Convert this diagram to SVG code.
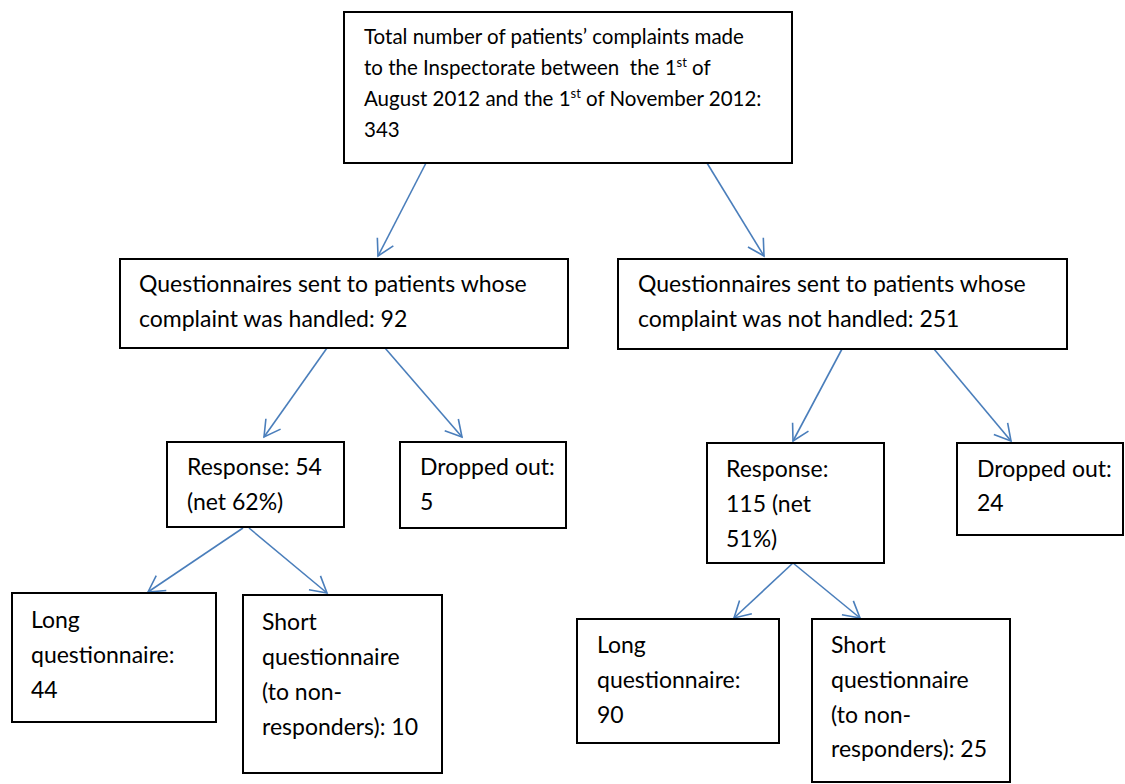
<svg xmlns="http://www.w3.org/2000/svg" width="1125" height="784" viewBox="0 0 1125 784">
<style>
.box{fill:#fff;stroke:#000;stroke-width:2}
.t{font-family:Lato,"Open Sans","Liberation Sans",sans-serif;font-size:23px;fill:#000}
.tt{font-family:Lato,"Open Sans","Liberation Sans",sans-serif;font-size:20.5px;fill:#000}
.sup{font-size:13px}
.conn line{stroke:#4a7ebb;stroke-width:1.6;fill:none}
</style>
<defs>
<marker id="ah" markerUnits="userSpaceOnUse" markerWidth="24" markerHeight="24" viewBox="-20 -12 24 24" refX="0" refY="0" orient="auto">
<path d="M-16,-9 L0,0 L-16,9" fill="none" stroke="#4a7ebb" stroke-width="1.6"/>
</marker>
</defs>
<rect width="1125" height="784" fill="#fff"/>
<g id="connectors" class="conn">
<line x1="426" y1="163" x2="378" y2="256" marker-end="url(#ah)"/>
<line x1="707" y1="163" x2="764" y2="256" marker-end="url(#ah)"/>
<line x1="327" y1="348" x2="264" y2="437" marker-end="url(#ah)"/>
<line x1="385" y1="348" x2="462" y2="437" marker-end="url(#ah)"/>
<line x1="842" y1="349" x2="793" y2="441" marker-end="url(#ah)"/>
<line x1="934" y1="349" x2="1011" y2="441" marker-end="url(#ah)"/>
<line x1="243" y1="528" x2="148" y2="592" marker-end="url(#ah)"/>
<line x1="249" y1="528" x2="327" y2="593" marker-end="url(#ah)"/>
<line x1="793" y1="563" x2="734" y2="618" marker-end="url(#ah)"/>
<line x1="793" y1="563" x2="860" y2="618" marker-end="url(#ah)"/>
</g>
<g id="total">
<rect class="box" x="344" y="12" width="448" height="151"/>
<text class="tt" x="364" y="44">Total number of patients’ complaints made</text>
<text class="tt" x="364" y="75">to the Inspectorate between&#160; the 1<tspan class="sup" dy="-8">st</tspan><tspan dy="8"> of</tspan></text>
<text class="tt" x="364" y="106">August 2012 and the 1<tspan class="sup" dy="-8">st</tspan><tspan dy="8"> of November 2012:</tspan></text>
<text class="tt" x="364" y="137">343</text>
</g>
<g id="handled">
<rect class="box" x="120" y="259" width="448" height="89"/>
<text class="t" x="139" y="292">Questionnaires sent to patients whose</text>
<text class="t" x="139" y="327">complaint was handled: 92</text>
</g>
<g id="not-handled">
<rect class="box" x="618" y="259" width="449" height="90"/>
<text class="t" x="638" y="292">Questionnaires sent to patients whose</text>
<text class="t" x="638" y="327">complaint was not handled: 251</text>
</g>
<g id="response-handled">
<rect class="box" x="167" y="442" width="177" height="85"/>
<text class="t" x="187" y="475">Response: 54</text>
<text class="t" x="187" y="510">(net 62%)</text>
</g>
<g id="dropped-handled">
<rect class="box" x="400" y="442" width="166" height="86"/>
<text class="t" x="420" y="475">Dropped out:</text>
<text class="t" x="420" y="510">5</text>
</g>
<g id="response-not-handled">
<rect class="box" x="707" y="443" width="177" height="120"/>
<text class="t" x="726" y="477">Response:</text>
<text class="t" x="726" y="512">115 (net</text>
<text class="t" x="726" y="547">51%)</text>
</g>
<g id="dropped-not-handled">
<rect class="box" x="957" y="443" width="166" height="92"/>
<text class="t" x="977" y="477">Dropped out:</text>
<text class="t" x="977" y="511">24</text>
</g>
<g id="long-handled">
<rect class="box" x="12" y="593" width="204" height="129"/>
<text class="t" x="31" y="628">Long</text>
<text class="t" x="31" y="663">questionnaire:</text>
<text class="t" x="31" y="698">44</text>
</g>
<g id="short-handled">
<rect class="box" x="243" y="595" width="199" height="178"/>
<text class="t" x="262" y="630">Short</text>
<text class="t" x="262" y="665">questionnaire</text>
<text class="t" x="262" y="700">(to non-</text>
<text class="t" x="262" y="735">responders): 10</text>
</g>
<g id="long-not-handled">
<rect class="box" x="577" y="619" width="202" height="124"/>
<text class="t" x="597" y="653">Long</text>
<text class="t" x="597" y="688">questionnaire:</text>
<text class="t" x="597" y="723">90</text>
</g>
<g id="short-not-handled">
<rect class="box" x="812" y="619" width="198" height="163"/>
<text class="t" x="831" y="653">Short</text>
<text class="t" x="831" y="688">questionnaire</text>
<text class="t" x="831" y="723">(to non-</text>
<text class="t" x="831" y="757">responders): 25</text>
</g>
</svg>
